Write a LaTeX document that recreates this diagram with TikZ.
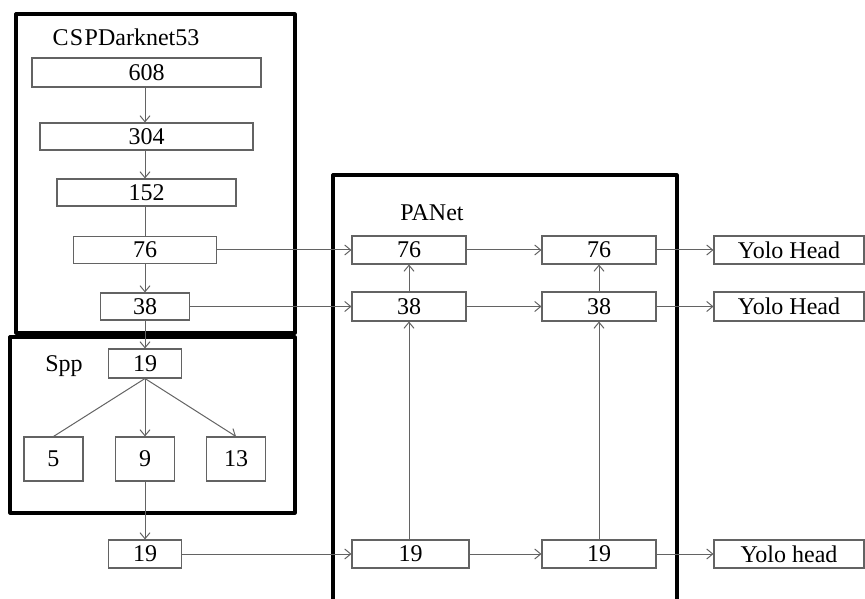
\documentclass[tikz,border=0pt]{standalone}
\usepackage{fontspec}
\setmainfont{Liberation Serif}
\usetikzlibrary{arrows.meta}
\definecolor{ln}{HTML}{636363}
\tikzset{
  bx/.style 2 args={draw=ln, line width=0.8pt, fill=white, inner sep=0pt,
    minimum width=#1*0.75pt, minimum height=#2*0.75pt,
    font=\fontsize{18}{20}\selectfont},
  lbl/.style={inner sep=0pt, font=\fontsize{18}{20}\selectfont},
  frame/.style={draw=black, line width=2.4pt, line join=round},
  con/.style={draw=ln, line width=0.75pt},
  arr/.style={con, -{Straight Barb[length=4.5pt,width=7.5pt]}}
}
\begin{document}
\begin{tikzpicture}[x=0.75pt,y=-0.75pt]
\useasboundingbox (0,0) rectangle (865,599);
% frames
\draw[frame] (16,14) rectangle (295,333);
\draw[frame] (10,337) rectangle (295,513);
\draw[frame] (333,602) -- (333,175) -- (677,175) -- (677,602);
% labels
\node[lbl] (lcsp) at (126,37) {C\kern1pt S\kern1pt PDarknet53};
\node[lbl] (lspp) at (64,366) {Spp};
\node[lbl] (lpan) at (432,213) {PANet};
% backbone
\node[bx={229}{29}] (a608) at (146.5,72.5) {608};
\node[bx={213}{27}] (a304) at (146.5,136.5) {304};
\node[bx={179}{27}] (a152) at (146.5,192.5) {152};
\node[bx={143}{27}] (a76) at (145,250) {76};
\node[bx={89}{27}] (a38) at (145,306.5) {38};
% spp
\node[bx={73}{29}] (s19) at (145,363.5) {19};
\node[bx={59}{44}] (s5) at (53.5,459) {5};
\node[bx={59}{44}] (s9) at (145,459) {9};
\node[bx={59}{44}] (s13) at (236,459) {13};
\node[bx={73}{28}] (b19) at (145,554) {19};
% PANet
\node[bx={114}{28}] (p76) at (409,250) {76};
\node[bx={114}{29}] (p38) at (409,306.5) {38};
\node[bx={117}{28}] (p19) at (410.5,554) {19};
\node[bx={114}{28}] (q76) at (599,250) {76};
\node[bx={114}{29}] (q38) at (599,306.5) {38};
\node[bx={114}{28}] (q19) at (599,554) {19};
% heads
\node[bx={150}{28}] (y1) at (789,250) {Yolo Head};
\node[bx={150}{29}] (y2) at (789,306.5) {Yolo Head};
\node[bx={150}{28}] (y3) at (789,554) {Yolo head};
% backbone connectors
\draw[arr] (a608.south -| a76) -- (a304.north -| a76);
\draw[arr] (a304.south -| a76) -- (a152.north -| a76);
\draw[con] (a152.south -| a76) -- (a76.north);
\draw[arr] (a76.south) -- (a38.north);
\draw[arr] (a38.south) -- (s19.north);
% spp connectors
\draw[con] (s19.south) -- (s5.north);
\draw[arr] (s19.south) -- (s9.north);
\draw[arr] (s19.south) -- (s13.north);
\draw[arr] (s9.south) -- (b19.north);
% horizontal connectors
\draw[arr] (a76.east) -- (p76.west);
\draw[arr] (a38.east) -- (p38.west);
\draw[arr] (b19.east) -- (p19.west);
\draw[arr] (p76.east) -- (q76.west);
\draw[arr] (p38.east) -- (q38.west);
\draw[arr] (p19.east) -- (q19.west);
\draw[arr] (q76.east) -- (y1.west);
\draw[arr] (q38.east) -- (y2.west);
\draw[arr] (q19.east) -- (y3.west);
% vertical PANet connectors
\draw[arr] (p19.north -| p38) -- (p38.south);
\draw[arr] (p38.north) -- (p76.south);
\draw[arr] (q19.north) -- (q38.south);
\draw[arr] (q38.north) -- (q76.south);
\end{tikzpicture}
\end{document}
